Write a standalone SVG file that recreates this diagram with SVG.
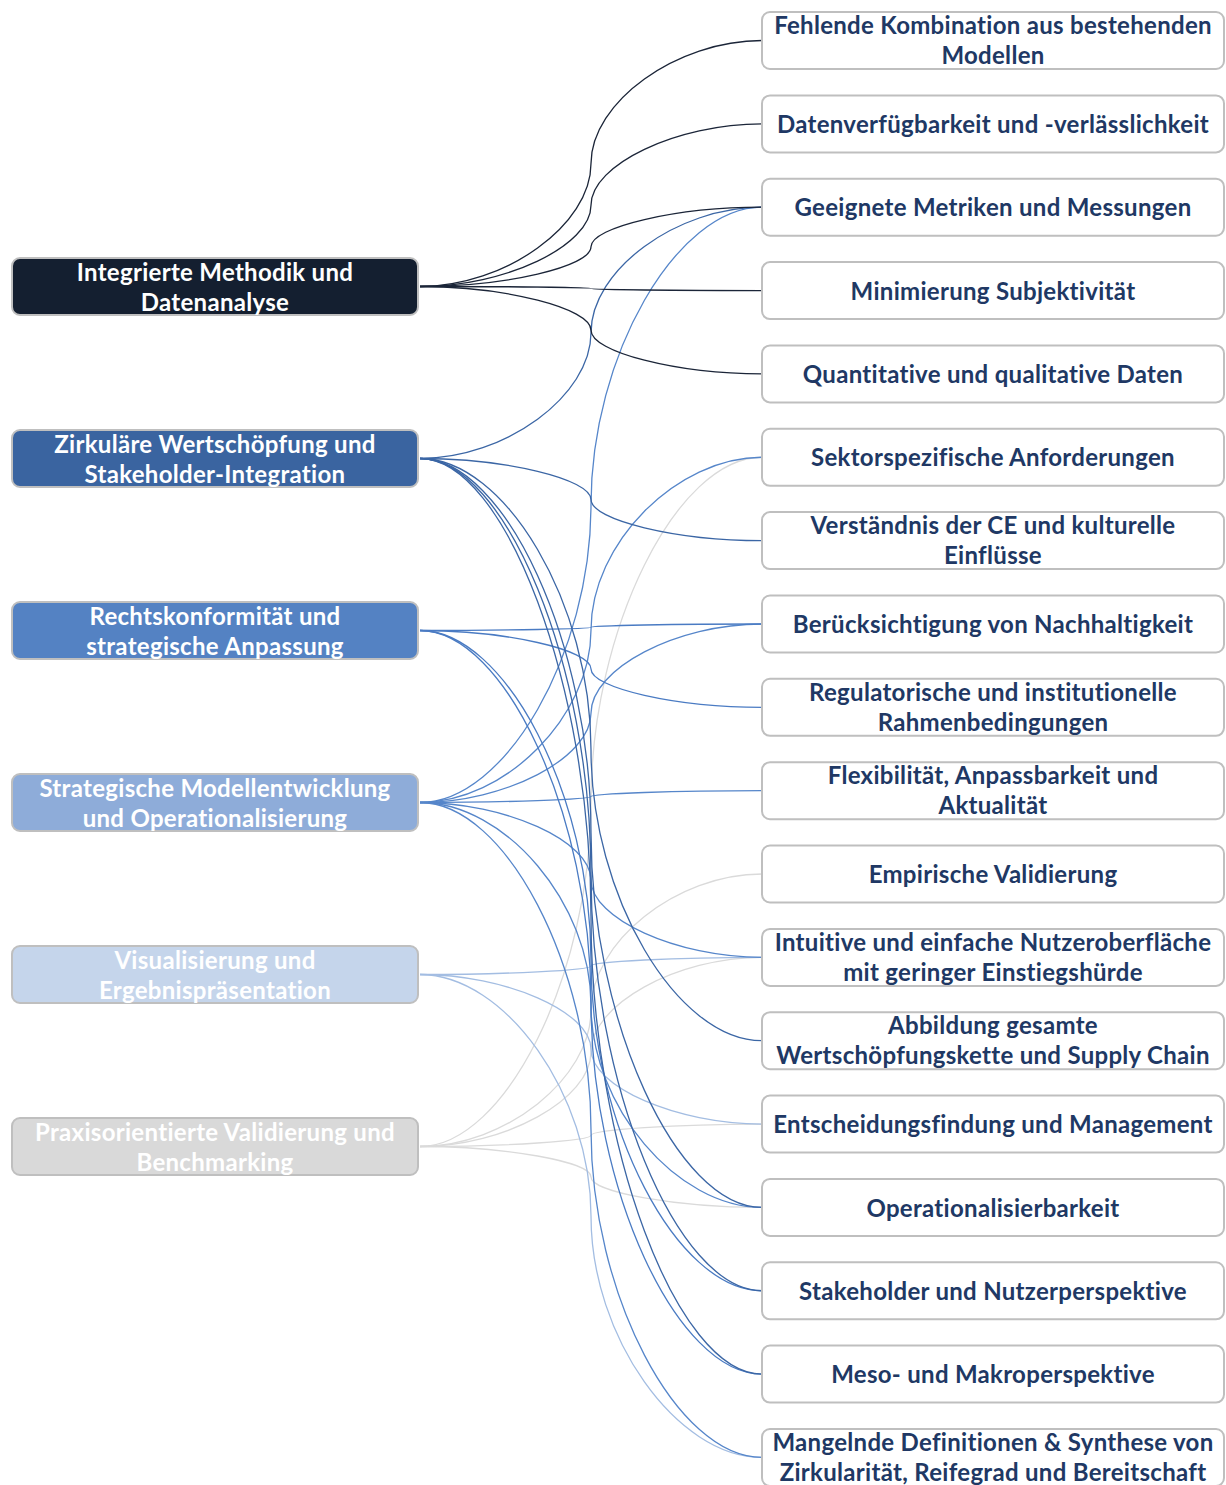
<svg xmlns="http://www.w3.org/2000/svg" width="1226" height="1485" viewBox="0 0 1226 1485">
  <style>
    .box { stroke: #bfbfbf; stroke-width: 2; }
    .src text { fill: #ffffff; font-family: Lato, "Open Sans", "Liberation Sans", sans-serif; font-weight: bold; font-size: 24px; letter-spacing: 0.3px; text-anchor: middle; }
    .tgt rect { fill: #ffffff; }
    .tgt text { fill: #203864; font-family: Lato, "Open Sans", "Liberation Sans", sans-serif; font-weight: bold; font-size: 24px; letter-spacing: 0.3px; text-anchor: middle; }
    #connectors path { fill: none; stroke-width: 1.3; }
    .c1 { stroke: #1b2538; }
    .c2 { stroke: #3b66a5; }
    .c3 { stroke: #4a7bc3; }
    .c4 { stroke: #5686ca; }
    .c5 { stroke: #a3bde2; }
    .c6 { stroke: #dadada; }
  </style>
  <rect width="1226" height="1485" fill="#ffffff"/>

  <!-- curved connectors: two cubic halves meeting vertically at x=591 -->
  <g id="connectors">
    <path class="c6" d="M420,1146.5 C505.5,1146.5 591,974.2 591,801.9 C591,629.6 676.5,457.25 762,457.25"/>
    <path class="c6" d="M420,1146.5 C505.5,1146.5 591,1078.4 591,1010.25 C591,942.1 676.5,874 762,874"/>
    <path class="c6" d="M420,1146.5 C505.5,1146.5 591,1099.2 591,1051.9 C591,1004.6 676.5,957.35 762,957.35"/>
    <path class="c6" d="M420,1146.5 C505.5,1146.5 591,1140.9 591,1135.3 C591,1129.7 676.5,1124.05 762,1124.05"/>
    <path class="c6" d="M420,1146.5 C505.5,1146.5 591,1161.7 591,1176.95 C591,1192.2 676.5,1207.4 762,1207.4"/>

    <path class="c5" d="M420,974.5 C505.5,974.5 591,970.2 591,965.9 C591,961.6 676.5,957.35 762,957.35"/>
    <path class="c5" d="M420,974.5 C505.5,974.5 591,1011.9 591,1049.3 C591,1086.7 676.5,1124.05 762,1124.05"/>
    <path class="c5" d="M420,974.5 C505.5,974.5 591,1095.2 591,1216 C591,1336.7 676.5,1457.45 762,1457.45"/>

    <path class="c4" d="M420,802.5 C505.5,802.5 591,653.7 591,504.85 C591,356 676.5,207.2 762,207.2"/>
    <path class="c4" d="M420,802.5 C505.5,802.5 591,716.2 591,629.9 C591,543.6 676.5,457.25 762,457.25"/>
    <path class="c4" d="M420,802.5 C505.5,802.5 591,757.9 591,713.25 C591,668.6 676.5,624 762,624"/>
    <path class="c4" d="M420,802.5 C505.5,802.5 591,799.5 591,796.6 C591,793.6 676.5,790.65 762,790.65"/>
    <path class="c4" d="M420,802.5 C505.5,802.5 591,841.2 591,879.9 C591,918.6 676.5,957.35 762,957.35"/>
    <path class="c4" d="M420,802.5 C505.5,802.5 591,903.7 591,1004.95 C591,1106.2 676.5,1207.4 762,1207.4"/>
    <path class="c4" d="M420,802.5 C505.5,802.5 591,966.2 591,1130 C591,1293.7 676.5,1457.45 762,1457.45"/>

    <path class="c3" d="M420,630.5 C505.5,630.5 591,628.9 591,627.25 C591,625.6 676.5,624 762,624"/>
    <path class="c3" d="M420,630.5 C505.5,630.5 591,649.7 591,668.9 C591,688.1 676.5,707.3 762,707.3"/>
    <path class="c3" d="M420,630.5 C505.5,630.5 591,795.6 591,960.6 C591,1125.7 676.5,1290.75 762,1290.75"/>
    <path class="c3" d="M420,630.5 C505.5,630.5 591,816.4 591,1002.3 C591,1188.2 676.5,1374.1 762,1374.1"/>

    <path class="c2" d="M420,458.5 C505.5,458.5 591,395.7 591,332.85 C591,270 676.5,207.2 762,207.2"/>
    <path class="c2" d="M420,458.5 C505.5,458.5 591,479 591,499.55 C591,520.1 676.5,540.6 762,540.6"/>
    <path class="c2" d="M420,458.5 C505.5,458.5 591,604.05 591,749.6 C591,895.15 676.5,1040.7 762,1040.7"/>
    <path class="c2" d="M420,458.5 C505.5,458.5 591,645.7 591,832.95 C591,1020.2 676.5,1207.4 762,1207.4"/>
    <path class="c2" d="M420,458.5 C505.5,458.5 591,666.55 591,874.6 C591,1082.7 676.5,1290.75 762,1290.75"/>
    <path class="c2" d="M420,458.5 C505.5,458.5 591,687.4 591,916.3 C591,1145.2 676.5,1374.1 762,1374.1"/>

    <path class="c1" d="M420,286.5 C505.5,286.5 591,225 591,163.5 C591,102 676.5,40.5 762,40.5"/>
    <path class="c1" d="M420,286.5 C505.5,286.5 591,245.85 591,205.2 C591,164.55 676.5,123.9 762,123.9"/>
    <path class="c1" d="M420,286.5 C505.5,286.5 591,266.7 591,246.85 C591,227 676.5,207.2 762,207.2"/>
    <path class="c1" d="M420,286.5 C505.5,286.5 591,287.5 591,288.55 C591,289.6 676.5,290.6 762,290.6"/>
    <path class="c1" d="M420,286.5 C505.5,286.5 591,308.35 591,330.2 C591,352.05 676.5,373.9 762,373.9"/>
  </g>

  <!-- category nodes (left) -->
  <g id="src1" class="src">
    <rect class="box" x="12" y="258" width="406" height="57" rx="8" fill="#141f30"/>
    <text x="215" y="281">Integrierte Methodik und</text>
    <text x="215" y="311">Datenanalyse</text>
  </g>
  <g id="src2" class="src">
    <rect class="box" x="12" y="430" width="406" height="57" rx="8" fill="#3a64a0"/>
    <text x="215" y="453">Zirkuläre Wertschöpfung und</text>
    <text x="215" y="483">Stakeholder-Integration</text>
  </g>
  <g id="src3" class="src">
    <rect class="box" x="12" y="602" width="406" height="57" rx="8" fill="#5482c3"/>
    <text x="215" y="625">Rechtskonformität und</text>
    <text x="215" y="655">strategische Anpassung</text>
  </g>
  <g id="src4" class="src">
    <rect class="box" x="12" y="774" width="406" height="57" rx="8" fill="#8eacd9"/>
    <text x="215" y="797">Strategische Modellentwicklung</text>
    <text x="215" y="827">und Operationalisierung</text>
  </g>
  <g id="src5" class="src">
    <rect class="box" x="12" y="946" width="406" height="57" rx="8" fill="#c5d5eb"/>
    <text x="215" y="969">Visualisierung und</text>
    <text x="215" y="999">Ergebnispräsentation</text>
  </g>
  <g id="src6" class="src">
    <rect class="box" x="12" y="1118" width="406" height="57" rx="8" fill="#d9d9d9"/>
    <text x="215" y="1141">Praxisorientierte Validierung und</text>
    <text x="215" y="1171">Benchmarking</text>
  </g>

  <!-- requirement nodes (right) -->
  <g id="t01" class="tgt">
    <rect class="box" x="762" y="12" width="462" height="57" rx="8"/>
    <text x="993" y="34">Fehlende Kombination aus bestehenden</text>
    <text x="993" y="64">Modellen</text>
  </g>
  <g id="t02" class="tgt">
    <rect class="box" x="762" y="95.4" width="462" height="57" rx="8"/>
    <text x="993" y="132.5">Datenverfügbarkeit und -verlässlichkeit</text>
  </g>
  <g id="t03" class="tgt">
    <rect class="box" x="762" y="178.7" width="462" height="57" rx="8"/>
    <text x="993" y="216">Geeignete Metriken und Messungen</text>
  </g>
  <g id="t04" class="tgt">
    <rect class="box" x="762" y="262.1" width="462" height="57" rx="8"/>
    <text x="993" y="299.5">Minimierung Subjektivität</text>
  </g>
  <g id="t05" class="tgt">
    <rect class="box" x="762" y="345.4" width="462" height="57" rx="8"/>
    <text x="993" y="383">Quantitative und qualitative Daten</text>
  </g>
  <g id="t06" class="tgt">
    <rect class="box" x="762" y="428.8" width="462" height="57" rx="8"/>
    <text x="993" y="466">Sektorspezifische Anforderungen</text>
  </g>
  <g id="t07" class="tgt">
    <rect class="box" x="762" y="512.1" width="462" height="57" rx="8"/>
    <text x="993" y="534">Verständnis der CE und kulturelle</text>
    <text x="993" y="564">Einflüsse</text>
  </g>
  <g id="t08" class="tgt">
    <rect class="box" x="762" y="595.5" width="462" height="57" rx="8"/>
    <text x="993" y="633">Berücksichtigung von Nachhaltigkeit</text>
  </g>
  <g id="t09" class="tgt">
    <rect class="box" x="762" y="678.8" width="462" height="57" rx="8"/>
    <text x="993" y="701">Regulatorische und institutionelle</text>
    <text x="993" y="731">Rahmenbedingungen</text>
  </g>
  <g id="t10" class="tgt">
    <rect class="box" x="762" y="762.2" width="462" height="57" rx="8"/>
    <text x="993" y="784">Flexibilität, Anpassbarkeit und</text>
    <text x="993" y="814">Aktualität</text>
  </g>
  <g id="t11" class="tgt">
    <rect class="box" x="762" y="845.5" width="462" height="57" rx="8"/>
    <text x="993" y="883">Empirische Validierung</text>
  </g>
  <g id="t12" class="tgt">
    <rect class="box" x="762" y="928.9" width="462" height="57" rx="8"/>
    <text x="993" y="951">Intuitive und einfache Nutzeroberfläche</text>
    <text x="993" y="981">mit geringer Einstiegshürde</text>
  </g>
  <g id="t13" class="tgt">
    <rect class="box" x="762" y="1012.2" width="462" height="57" rx="8"/>
    <text x="993" y="1034">Abbildung gesamte</text>
    <text x="993" y="1064">Wertschöpfungskette und Supply Chain</text>
  </g>
  <g id="t14" class="tgt">
    <rect class="box" x="762" y="1095.6" width="462" height="57" rx="8"/>
    <text x="993" y="1133">Entscheidungsfindung und Management</text>
  </g>
  <g id="t15" class="tgt">
    <rect class="box" x="762" y="1178.9" width="462" height="57" rx="8"/>
    <text x="993" y="1216.5">Operationalisierbarkeit</text>
  </g>
  <g id="t16" class="tgt">
    <rect class="box" x="762" y="1262.3" width="462" height="57" rx="8"/>
    <text x="993" y="1299.5">Stakeholder und Nutzerperspektive</text>
  </g>
  <g id="t17" class="tgt">
    <rect class="box" x="762" y="1345.6" width="462" height="57" rx="8"/>
    <text x="993" y="1383">Meso- und Makroperspektive</text>
  </g>
  <g id="t18" class="tgt">
    <rect class="box" x="762" y="1429" width="462" height="57" rx="8"/>
    <text x="993" y="1451">Mangelnde Definitionen &amp; Synthese von</text>
    <text x="993" y="1481">Zirkularität, Reifegrad und Bereitschaft</text>
  </g>
</svg>
